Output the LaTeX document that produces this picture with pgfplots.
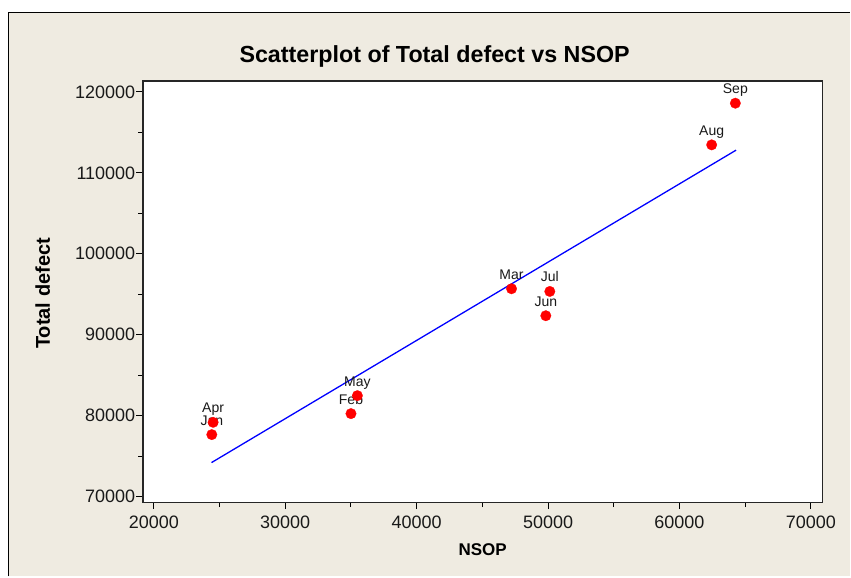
\documentclass[border=0pt]{standalone}
\usepackage{fontspec}
\setmainfont{Liberation Sans}
\usepackage{pgfplots}
\usepackage{pgfplotstable}
\pgfplotsset{compat=1.18}
\definecolor{bgbeige}{RGB}{239,235,225}
\pgfplotstableread{
x y label
24411 77654 Jan
35004 80247 Feb
47224 95679 Mar
24510 79173 Apr
35490 82469 May
49833 92346 Jun
50137 95346 Jul
62456 113457 Aug
64259 118605 Sep
}\pointsdata
\begin{document}
\begin{tikzpicture}[x=1pt,y=1pt]
\fill[white] (0,0) rectangle (851,577);
\fill[bgbeige] (8.5,0) rectangle (851,564.5);
\draw[line width=1.5pt, black] (8.5,0) -- (8.5,564.5) -- (851,564.5);
\node[anchor=base, font=\fontsize{23.3}{23.3}\selectfont\bfseries] at (435,514.7) {Scatterplot of Total defect vs NSOP};
\node[anchor=base, font=\fontsize{17}{17}\selectfont\bfseries] at (483,21) {NSOP};
\node[anchor=base, rotate=90, font=\fontsize{20}{20}\selectfont\bfseries] at (50,283.3) {Total defect};
\begin{axis}[
  at={(143pt,74pt)}, anchor=south west, width=680pt, height=422pt, scale only axis,
  xmin=19164, xmax=70875, ymin=69260, ymax=121358,
  xtick={20000,30000,40000,50000,60000,70000},
  xticklabels={20000,30000,40000,50000,60000,70000},
  ytick={70000,80000,90000,100000,110000,120000},
  yticklabels={70000,80000,90000,100000,110000,120000},
  minor xtick={25000,35000,45000,55000,65000},
  minor ytick={75000,85000,95000,105000,115000},
  scaled ticks=false,
  tick align=outside, xtick pos=left, ytick pos=left,
  major tick length=6.5pt, minor tick length=4.5pt,
  tick style={black, line width=1pt},
  axis line style={black!85, line width=1.5pt},
  axis background/.style={fill=white},
  tick label style={font=\fontsize{18}{18}\selectfont, text=black!90},
  yticklabel style={inner sep=1pt},
  xticklabel style={inner sep=1pt, yshift=-6pt},
]
\addplot[blue, line width=1.3pt, no marks] coordinates {(24388,74198) (64312,112802)};
\addplot[only marks, mark=*, mark size=5.3pt, mark options={fill=red, draw=red, line width=0.2pt},
  nodes near coords={\pgfplotspointmeta}, point meta=explicit symbolic,
  nodes near coords style={font=\fontsize{14}{14}\selectfont, text=black!90, anchor=base, inner sep=0pt, yshift=9.5pt}]
  table[x=x, y=y, meta=label] {\pointsdata};
\end{axis}
\end{tikzpicture}
\end{document}
